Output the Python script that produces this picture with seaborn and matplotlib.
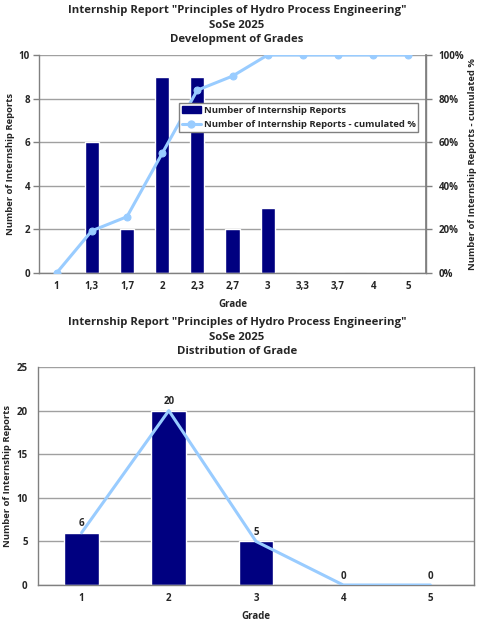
import numpy as np
import pandas as pd
import matplotlib
matplotlib.use("Agg")
import matplotlib.pyplot as plt
from matplotlib.lines import Line2D
from matplotlib.patches import Patch
import seaborn as sns

# ---- data ----
dev_grades = ["1", "1,3", "1,7", "2", "2,3", "2,7", "3", "3,3", "3,7", "4", "5"]
dev_counts = [0, 6, 2, 9, 9, 2, 3, 0, 0, 0, 0]
dev_cum_pct = [0, 19.35, 25.81, 54.84, 83.87, 90.32, 100, 100, 100, 100, 100]

dist_grades = ["1", "2", "3", "4", "5"]
dist_counts = [6, 20, 5, 0, 0]

title_top = 'Internship Report "Principles of Hydro Process Engineering"\nSoSe 2025\nDevelopment of Grades'
title_bot = 'Internship Report "Principles of Hydro Process Engineering"\nSoSe 2025\nDistribution of Grade'
ylabel = "Number of Internship Reports"
ylabel_r = "Number of Internship Reports - cumulated %"
xlabel = "Grade"
leg_bar = "Number of Internship Reports"
leg_line = "Number of Internship Reports - cumulated %"

NAVY = "#000080"
LBLUE = "#99CCFF"
GRID = "#a0a0a0"
SPINE = "#808080"

sns.set_theme(style="white")
plt.rcParams["font.family"] = ["Open Sans", "DejaVu Sans"]
plt.rcParams["font.weight"] = "bold"
FS = 7
LFS = 6.8
TFS = 8.2

W, H = 480, 624
fig = plt.figure(figsize=(W / 100, H / 100), dpi=100)


def px_axes(l, t, r, b):
    return fig.add_axes([l / W, (H - b) / H, (r - l) / W, (b - t) / H])


def style_axes(ax, n, ypad):
    ax.spines["top"].set_visible(False)
    for s in ["left", "bottom", "right"]:
        ax.spines[s].set_color(SPINE)
        ax.spines[s].set_linewidth(1)
    ax.set_xlim(-0.5, n - 0.5)
    ax.set_xticks(np.arange(n))
    ax.set_xticks(np.arange(n + 1) - 0.5, minor=True)
    ax.tick_params(axis="x", which="major", length=0, labelsize=FS, pad=6)
    ax.tick_params(axis="x", which="minor", length=4, color=SPINE, width=1, direction="out")
    ax.tick_params(axis="y", length=4, color=SPINE, width=1, direction="out", labelsize=FS, pad=ypad)
    ax.yaxis.grid(True, color=GRID, linewidth=1)
    ax.set_axisbelow(True)


# ---------------- top chart ----------------
ax1 = px_axes(39, 55, 426, 273)
df1 = pd.DataFrame({"grade": dev_grades, "count": dev_counts})
sns.barplot(data=df1, x="grade", y="count", order=dev_grades, color=NAVY, width=0.4,
            saturation=1, ax=ax1, zorder=2)
ax1.set_ylim(0, 10)
ax1.set_yticks(np.arange(0, 11, 2))
style_axes(ax1, len(dev_grades), 2.5)
ax1.set_xticklabels(dev_grades, fontweight="bold")
ax1.set_yticklabels([str(v) for v in range(0, 11, 2)], fontweight="bold")
ax1.set_xlabel(xlabel, fontsize=FS, fontweight="bold", labelpad=5)
ax1.set_ylabel(ylabel, fontsize=LFS, fontweight="bold", labelpad=3)

ax2 = ax1.twinx()
df1c = pd.DataFrame({"pos": np.arange(len(dev_grades)), "cum": dev_cum_pct})
sns.lineplot(data=df1c, x="pos", y="cum", color=LBLUE, linewidth=2.2, marker="o",
             markersize=5, markeredgecolor=LBLUE, ax=ax2, zorder=3)
ax2.set_ylim(0, 100)
ax2.set_xlim(-0.5, len(dev_grades) - 0.5)
ax2.set_yticks(np.arange(0, 101, 20))
ax2.set_yticklabels([f"{v}%" for v in range(0, 101, 20)], fontweight="bold")
ax2.tick_params(axis="y", length=4, color=SPINE, width=1, direction="out", labelsize=FS, pad=5)
for s in ["top", "left", "bottom"]:
    ax2.spines[s].set_visible(False)
ax2.spines["right"].set_color(SPINE)
ax2.set_ylabel(ylabel_r, fontsize=LFS, fontweight="bold", labelpad=3)
ax2.set_xlabel("")

handles = [Patch(facecolor=NAVY, edgecolor=NAVY),
           Line2D([0], [0], color=LBLUE, lw=2.2, marker="o", markersize=5)]
leg = ax2.legend(handles, [leg_bar, leg_line], loc="upper left",
                 bbox_to_anchor=(0.362, 0.78), borderaxespad=0, fontsize=6.8,
                 frameon=True, fancybox=False, framealpha=1, edgecolor=SPINE,
                 handlelength=2.0, handletextpad=0.3, borderpad=0.3, labelspacing=0.6)
leg.get_frame().set_linewidth(1)
for t in leg.get_texts():
    t.set_fontweight("bold")

fig.text(237 / W, 1 - 25 / H, title_top, ha="center", va="center", fontsize=TFS,
         fontweight="bold", linespacing=1.45)

# ---------------- bottom chart ----------------
ax3 = px_axes(38, 367, 474, 585)
df2 = pd.DataFrame({"grade": dist_grades, "count": dist_counts})
sns.barplot(data=df2, x="grade", y="count", order=dist_grades, color=NAVY, width=0.4,
            saturation=1, ax=ax3, zorder=2)
df2p = pd.DataFrame({"pos": np.arange(len(dist_grades)), "count": dist_counts})
sns.lineplot(data=df2p, x="pos", y="count", color=LBLUE, linewidth=2.2, ax=ax3, zorder=3)
ax3.set_ylim(0, 25)
ax3.set_yticks(np.arange(0, 26, 5))
style_axes(ax3, len(dist_grades), 3.5)
ax3.set_xticklabels(dist_grades, fontweight="bold")
ax3.set_yticklabels([str(v) for v in range(0, 26, 5)], fontweight="bold")
ax3.set_xlabel(xlabel, fontsize=FS, fontweight="bold", labelpad=5)
ax3.set_ylabel(ylabel, fontsize=LFS, fontweight="bold", labelpad=3)
for i, v in enumerate(dist_counts):
    ax3.annotate(str(v), (i, v), xytext=(0, 2.5), textcoords="offset points",
                 ha="center", va="bottom", fontsize=FS, fontweight="bold", zorder=4)

fig.text(237 / W, 1 - 337 / H, title_bot, ha="center", va="center", fontsize=TFS,
         fontweight="bold", linespacing=1.45)

fig.savefig("out.png", dpi=100)
